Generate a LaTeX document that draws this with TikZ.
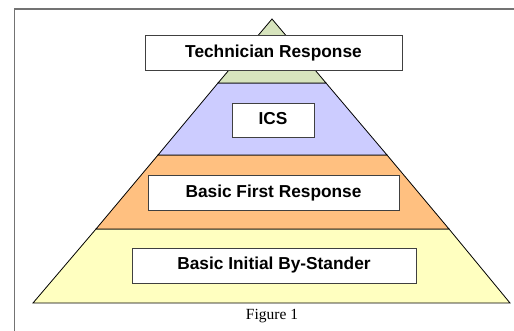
\documentclass[tikz,border=0pt]{standalone}
\usepackage{fontspec}
\setmainfont{Liberation Serif}
\newfontfamily\arialb{Liberation Sans}
\begin{document}
\begin{tikzpicture}[x=1pt,y=-1pt,
  layer/.style={draw=black, line width=0.8pt, line join=miter},
  lbl/.style={draw=black!75, line width=1pt, fill=white, font=\arialb\bfseries\fontsize{17.3}{20}\selectfont, inner sep=0pt, text height=0.72em, text depth=0pt},
  frame/.style={draw=black!55, line width=1.5pt}]
\useasboundingbox (0,0) rectangle (514,331);
% frame
\draw[frame] (14.5,331) -- (14.5,9) -- (514,9);
% layers
\coordinate (apex) at (272,19);
\coordinate (gl) at (218,83);  \coordinate (gr) at (326,83);
\coordinate (pl) at (158,155); \coordinate (pr) at (387,155);
\coordinate (ol) at (96,229);  \coordinate (or) at (449,229);
\coordinate (yl) at (33,303);  \coordinate (yr) at (510,303);
\filldraw[layer, fill={rgb,255:red,255;green,255;blue,192}] (ol) -- (or) -- (yr) -- (yl) -- cycle;
\filldraw[layer, fill={rgb,255:red,255;green,192;blue,128}] (pl) -- (pr) -- (or) -- (ol) -- cycle;
\filldraw[layer, fill={rgb,255:red,204;green,204;blue,255}] (gl) -- (gr) -- (pr) -- (pl) -- cycle;
\filldraw[layer, fill={rgb,255:red,215;green,228;blue,189}] (apex) -- (gr) -- (gl) -- cycle;
% labels
\node[lbl, minimum width=257pt, minimum height=35pt] (tech) at (273.5,53.5) {Technician Response};
\node[lbl, minimum width=82pt, minimum height=34pt] (ics) at (273,121) {ICS};
\node[lbl, minimum width=251pt, minimum height=35pt] (bfr) at (273.5,193.5) {Basic First Response};
\node[lbl, minimum width=284pt, minimum height=35pt] (bib) at (274,265.5) {Basic Initial By-Stander};
\node[font=\fontsize{15.5}{18}\selectfont, inner sep=0pt] (cap) at (272,316) {Figure 1};
\end{tikzpicture}
\end{document}
